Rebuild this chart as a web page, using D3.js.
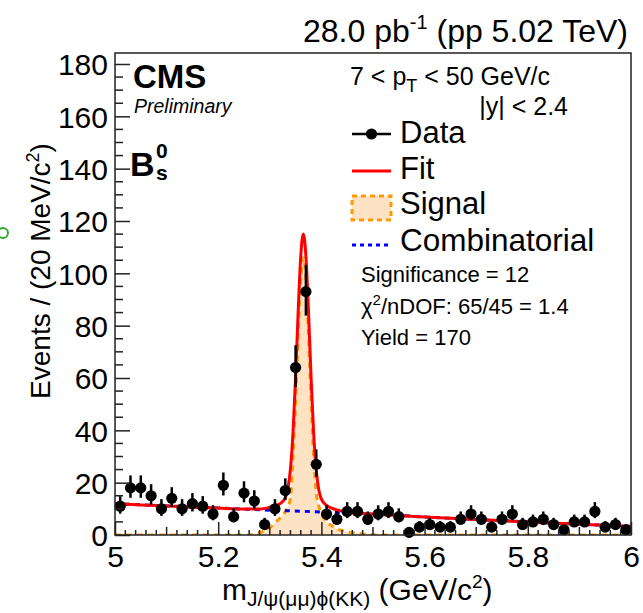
<!DOCTYPE html>
<html><head><meta charset="utf-8">
<script src="https://cdn.jsdelivr.net/npm/d3@7"></script>
<style>
body{margin:0;background:#fff;}
svg{display:block;}
text{font-family:"Liberation Sans",Arial,Helvetica,sans-serif;fill:#000;}
</style>
</head><body>
<svg id="c" width="643" height="613"></svg>
<script>
// ---------- data ----------
const binCenters = [5.01,5.03,5.05,5.07,5.09,5.11,5.13,5.15,5.17,5.19,
                    5.21,5.23,5.25,5.27,5.29,5.31,5.33,5.35,5.37,5.39,
                    5.41,5.43,5.45,5.47,5.49,5.51,5.53,5.55,5.57,5.59,
                    5.61,5.63,5.65,5.67,5.69,5.71,5.73,5.75,5.77,5.79,
                    5.81,5.83,5.85,5.87,5.89,5.91,5.93,5.95,5.97,5.99];
const counts = [11,18,18,15,10,14,10,12,11,8,
                19,7,16,13,4,10,17,64,93,27,
                8,6,9,9,6,8,9,7,1,3,
                4,3,3,6,8,6,3,6,8,4,
                5,6,4,2,5,5,9,3,4,2];

const fitMass = [5.00,5.05,5.10,5.15,5.20,5.25,5.28,5.30,5.31,5.32,5.33,5.335,5.34,5.345,5.35,5.355,5.36,5.365,5.37,5.375,5.38,5.385,5.39,5.395,5.40,5.41,5.42,5.43,5.45,5.50,5.60,5.70,5.80,5.90,6.00];
const fitValue = [12.0,11.5,11.1,10.7,10.3,9.9,9.9,10.6,11.2,12.0,14.3,17.7,25.3,39.1,60.4,85.5,106.6,115.0,106.5,85.4,60.2,38.8,24.9,17.2,13.7,11.3,10.3,9.6,8.8,8.0,6.9,5.9,5.0,4.1,3.3];

const sigMass = [5.00,5.26,5.27,5.28,5.29,5.30,5.31,5.32,5.33,5.34,5.345,5.35,5.355,5.36,5.365,5.37,5.375,5.38,5.385,5.39,5.395,5.40,5.41,5.42,5.43,5.44,5.45,5.46,5.48,5.50,5.52,6.00];
const sigValue = [0,0,0.4,0.9,1.6,2.8,4.6,6.6,9.0,14.0,30.0,51.3,76.5,97.6,106.0,97.6,76.5,51.3,30.0,16.1,11.0,8.0,5.0,3.6,2.4,1.7,1.2,0.9,0.4,0.1,0,0];

const bkgMass = [5.0,5.1,5.2,5.3,5.4,5.5,5.6,5.7,5.8,5.9,6.0];
const bkgValue = [12.0,11.1,10.3,9.5,8.8,8.0,6.9,5.9,5.0,4.1,3.3];

const yTickValues = [0,20,40,60,80,100,120,140,160,180];
const xTickValues = [5,5.2,5.4,5.6,5.8,6];
const xTickLabels = ["5","5.2","5.4","5.6","5.8","6"];

(function(){
// ---------- layout ----------
const svg = d3.select("#c");
const L=115, R=631, T=53, B=535;
const x = d3.scaleLinear().domain([5,6]).range([L,R]);
const y = d3.scaleLinear().domain([0,184.2]).range([B,T]);
const FONT = '"Liberation Sans",Arial,Helvetica,sans-serif';

svg.append("defs").append("clipPath").attr("id","clip")
  .append("rect").attr("x",L).attr("y",T).attr("width",R-L).attr("height",B-T);

const plot = svg.append("g").attr("clip-path","url(#clip)");

const sigPts = sigMass.map((m,i)=>[m,sigValue[i]]);
const fitPts = fitMass.map((m,i)=>[m,fitValue[i]]);
const bkgPts = bkgMass.map((m,i)=>[m,bkgValue[i]]);

plot.append("path").datum(sigPts)
  .attr("d", d3.area().x(d=>x(d[0])).y0(y(0)).y1(d=>y(d[1])).curve(d3.curveMonotoneX))
  .attr("fill","#fde2c4");
plot.append("path").datum(sigPts)
  .attr("d", d3.line().x(d=>x(d[0])).y(d=>y(d[1])).curve(d3.curveMonotoneX))
  .attr("fill","none").attr("stroke","#ff9900").attr("stroke-width",3).attr("stroke-dasharray","6,5");
plot.append("path").datum(bkgPts)
  .attr("d", d3.line().x(d=>x(d[0])).y(d=>y(d[1])).curve(d3.curveMonotoneX))
  .attr("fill","none").attr("stroke","#0000ff").attr("stroke-width",3).attr("stroke-dasharray","5,5");
plot.append("path").datum(fitPts)
  .attr("d", d3.line().x(d=>x(d[0])).y(d=>y(d[1])).curve(d3.curveMonotoneX))
  .attr("fill","none").attr("stroke","#ff0000").attr("stroke-width",3);

const gd = svg.append("g");
binCenters.forEach((m,i)=>{
  const n = counts[i];
  const s = Math.sqrt(n+0.25);
  const up = n + 0.5 + s, lo = Math.max(0, n + 0.5 - s);
  gd.append("line").attr("x1",x(m)).attr("x2",x(m)).attr("y1",y(lo)).attr("y2",y(up))
    .attr("stroke","#000").attr("stroke-width",2.5);
  gd.append("circle").attr("cx",x(m)).attr("cy",y(n)).attr("r",5.6).attr("fill","#000");
});

svg.append("rect").attr("x",L).attr("y",T).attr("width",R-L).attr("height",B-T)
  .attr("fill","none").attr("stroke","#222").attr("stroke-width",1.5);

const yAxis = d3.axisLeft(y).tickValues(yTickValues).tickSizeInner(-15).tickSizeOuter(0).tickPadding(7);
const gy = svg.append("g").attr("transform",`translate(${L},0)`).call(yAxis);
gy.select(".domain").remove();
gy.selectAll(".tick line").attr("stroke","#222").attr("stroke-width",1.5);
gy.selectAll(".tick text").attr("font-size",30).attr("font-family",FONT).attr("fill","#000").attr("dy","0.36em");
const yMinor = d3.range(0,184,5).filter(v=>v%20!==0);
svg.append("g").selectAll("line").data(yMinor).join("line")
  .attr("x1",L).attr("x2",L+8).attr("y1",d=>y(d)).attr("y2",d=>y(d))
  .attr("stroke","#222").attr("stroke-width",1.5);

const xAxis = d3.axisBottom(x).tickValues(xTickValues).tickFormat((d,i)=>xTickLabels[i])
  .tickSizeInner(-13).tickSizeOuter(0).tickPadding(10);
const gx = svg.append("g").attr("transform",`translate(0,${B})`).call(xAxis);
gx.select(".domain").remove();
gx.selectAll(".tick line").attr("stroke","#222").attr("stroke-width",1.5);
gx.selectAll(".tick text").attr("font-size",30).attr("font-family",FONT).attr("fill","#000").attr("dy","0.72em");
const xMinorIdx = d3.range(1,50).filter(k=>k%10!==0);
svg.append("g").selectAll("line").data(xMinorIdx).join("line")
  .attr("x1",k=>x(5+k*0.02)).attr("x2",k=>x(5+k*0.02)).attr("y1",B)
  .attr("y2",k=>(k%10===5)?B-8:B-5)
  .attr("stroke","#222").attr("stroke-width",1.5);

// ---------- texts ----------
const lumi = svg.append("text").attr("x",628).attr("y",42).attr("text-anchor","end").attr("font-size",32);
lumi.append("tspan").text("28.0 pb");
lumi.append("tspan").attr("font-size",20).attr("dy",-13).text("-1");
lumi.append("tspan").attr("dy",13).text(" (pp 5.02 TeV)");

svg.append("text").attr("x",133).attr("y",88).attr("font-size",33).attr("font-weight","bold").text("CMS");
svg.append("text").attr("x",134).attr("y",113).attr("font-size",19.5).attr("font-style","italic").text("Preliminary");

svg.append("text").attr("x",130).attr("y",176).attr("font-size",34).attr("font-weight","bold").text("B");
svg.append("text").attr("x",156).attr("y",158).attr("font-size",21).attr("font-weight","bold").text("0");
svg.append("text").attr("x",156).attr("y",180).attr("font-size",21).attr("font-weight","bold").text("s");

const pt = svg.append("text").attr("x",350).attr("y",85).attr("font-size",25);
pt.append("tspan").text("7 < p");
pt.append("tspan").attr("font-size",18).attr("dy",7).text("T");
pt.append("tspan").attr("dy",-7).text(" < 50 GeV/c");
svg.append("text").attr("x",568).attr("y",115).attr("font-size",25).attr("text-anchor","end").text("|y| < 2.4");

const LX1=352, LX2=391, TX=400;
svg.append("line").attr("x1",LX1).attr("x2",LX2).attr("y1",134).attr("y2",134).attr("stroke","#000").attr("stroke-width",2.5);
svg.append("circle").attr("cx",(LX1+LX2)/2).attr("cy",134).attr("r",5.6).attr("fill","#000");
svg.append("text").attr("x",TX).attr("y",143).attr("font-size",31).text("Data");
svg.append("line").attr("x1",LX1).attr("x2",LX2).attr("y1",171).attr("y2",171).attr("stroke","#ff0000").attr("stroke-width",3);
svg.append("text").attr("x",TX).attr("y",179).attr("font-size",31).text("Fit");
svg.append("rect").attr("x",LX1).attr("y",196).attr("width",LX2-LX1).attr("height",24)
  .attr("fill","#fde2c4").attr("stroke","#ff9900").attr("stroke-width",3).attr("stroke-dasharray","5,4");
svg.append("text").attr("x",TX).attr("y",214).attr("font-size",31).text("Signal");
svg.append("line").attr("x1",LX1).attr("x2",LX2).attr("y1",245).attr("y2",245).attr("stroke","#0000ff").attr("stroke-width",3).attr("stroke-dasharray","4,4");
svg.append("text").attr("x",TX).attr("y",251).attr("font-size",31.5).text("Combinatorial");

svg.append("text").attr("x",361).attr("y",282).attr("font-size",22).text("Significance = 12");
const chi = svg.append("text").attr("x",361).attr("y",314).attr("font-size",22);
chi.append("tspan").text("χ");
chi.append("tspan").attr("font-size",15).attr("dy",-9).text("2");
chi.append("tspan").attr("dy",9).text("/nDOF: 65/45 = 1.4");
svg.append("text").attr("x",361).attr("y",345).attr("font-size",22).text("Yield = 170");

const xt = svg.append("text").attr("x",222).attr("y",600).attr("font-size",30);
xt.append("tspan").text("m");
xt.append("tspan").attr("font-size",21).attr("dy",6).text("J/ψ(μμ)ϕ(KK)");
xt.append("tspan").attr("dy",-6).text(" (GeV/c");
xt.append("tspan").attr("font-size",19).attr("dy",-12).text("2");
xt.append("tspan").attr("dy",12).text(")");

const yt = svg.append("text").attr("transform","translate(50,271) rotate(-90)").attr("text-anchor","middle").attr("font-size",28);
yt.append("tspan").text("Events / (20 MeV/c");
yt.append("tspan").attr("font-size",18).attr("dy",-11).text("2");
yt.append("tspan").attr("dy",11).text(")");

svg.append("circle").attr("cx",3).attr("cy",233).attr("r",5).attr("fill","none").attr("stroke","#33aa33").attr("stroke-width",2);
})();
</script>
</body></html>
